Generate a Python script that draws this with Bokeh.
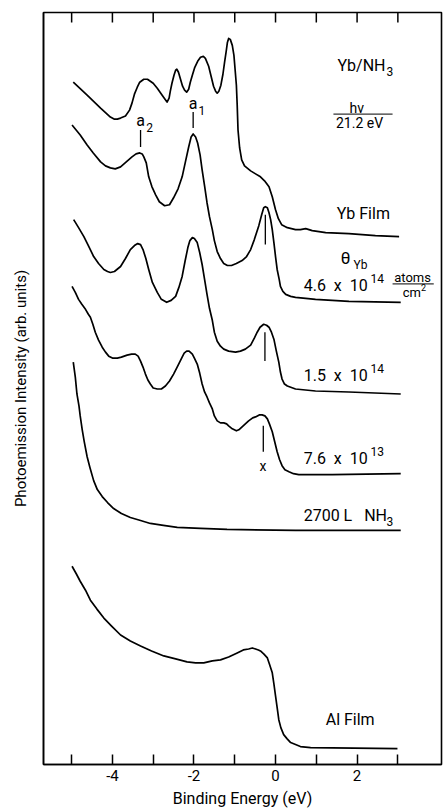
from bokeh.plotting import figure
from bokeh.models import FixedTicker, Range1d
from bokeh.core.properties import value
from bokeh.embed import file_html
from bokeh.resources import INLINE

# ---------------- data (binding energy in eV, intensity in arb. units) -------------
yb_film_E = [-4.96, -4.62, -4.29, -4.05, -3.96, -3.88, -3.80, -3.68, -3.58, -3.52, -3.46, -3.39,
             -3.33, -3.23, -3.14, -3.07, -3.00, -2.90, -2.78, -2.71, -2.66, -2.61, -2.58, -2.54,
             -2.49, -2.45, -2.42, -2.38, -2.33, -2.28, -2.23, -2.18, -2.13, -2.09, -2.04, -1.98,
             -1.91, -1.84, -1.77, -1.72, -1.64, -1.58, -1.52, -1.47, -1.43, -1.39, -1.34, -1.29,
             -1.25, -1.21, -1.18, -1.15, -1.11, -1.06, -1.02, -0.99, -0.96, -0.94, -0.92, -0.88,
             -0.83, -0.76, -0.61, -0.49, -0.37, -0.27, -0.16, -0.08, 0.00, 0.07, 0.15, 0.29,
             0.49, 0.61, 0.74, 0.90, 1.23, 1.80, 2.45, 3.03]
yb_film_I = [685, 672, 659, 650, 648, 648, 649, 651, 657, 664, 673, 680,
             685, 688, 688, 686, 684, 679, 672, 668, 665, 669, 676, 684,
             692, 697, 698, 695, 688, 681, 677, 675, 678, 685, 692, 700,
             706, 710, 711, 709, 701, 691, 681, 676, 674, 676, 682, 693,
             705, 716, 725, 729, 728, 722, 712, 697, 682, 662, 637, 619,
             607, 601, 596, 593, 590, 586, 580, 570, 557, 548, 542, 539,
             537, 537, 538, 536, 534, 533, 531, 530]

cov46_E = [-4.99, -4.79, -4.62, -4.47, -4.29, -4.17, -4.05, -3.93, -3.80, -3.66, -3.52, -3.42,
           -3.33, -3.27, -3.23, -3.17, -3.11, -3.03, -2.94, -2.85, -2.72, -2.60, -2.50, -2.39,
           -2.29, -2.21, -2.13, -2.07, -2.02, -1.96, -1.91, -1.85, -1.80, -1.74, -1.68, -1.62,
           -1.55, -1.50, -1.43, -1.35, -1.27, -1.18, -1.08, -0.96, -0.82, -0.71, -0.61, -0.52,
           -0.41, -0.34, -0.29, -0.25, -0.20, -0.16, -0.12, -0.08, -0.04, 0.00, 0.04, 0.09,
           0.12, 0.18, 0.25, 0.37, 0.49, 0.74, 0.98, 1.80, 3.07]
cov46_I = [642, 632, 622, 614, 605, 601, 599, 598, 600, 605, 610, 613,
           614, 613, 610, 604, 590, 580, 572, 565, 561, 562, 569, 578,
           590, 605, 620, 630, 633, 630, 624, 612, 597, 581, 564, 550,
           537, 526, 515, 508, 503, 501, 501, 503, 506, 510, 517, 527,
           541, 552, 559, 560, 559, 554, 547, 537, 524, 510, 497, 487,
           480, 475, 472, 470, 469, 468, 467, 465, 464]

cov15_E = [-4.95, -4.83, -4.70, -4.59, -4.46, -4.34, -4.21, -4.12, -4.05, -3.95, -3.80, -3.68,
           -3.56, -3.46, -3.38, -3.31, -3.25, -3.18, -3.11, -3.02, -2.90, -2.80, -2.67, -2.56,
           -2.45, -2.37, -2.29, -2.22, -2.15, -2.10, -2.04, -1.99, -1.92, -1.86, -1.80, -1.74,
           -1.68, -1.62, -1.55, -1.50, -1.43, -1.35, -1.27, -1.15, -0.98, -0.86, -0.74, -0.61,
           -0.52, -0.45, -0.38, -0.29, -0.22, -0.16, -0.10, -0.04, 0.02, 0.08, 0.12, 0.16,
           0.22, 0.29, 0.49, 0.98, 1.80, 3.07]
cov15_I = [547, 539, 530, 521, 510, 503, 497, 495, 494, 495, 500, 508,
           517, 521, 523, 522, 517, 508, 497, 484, 474, 467, 464, 466,
           470, 479, 490, 505, 519, 526, 529, 528, 524, 514, 502, 487,
           472, 458, 446, 434, 425, 420, 417, 415, 414, 415, 417, 421,
           428, 434, 439, 442, 441, 439, 434, 427, 415, 404, 394, 387,
           382, 380, 377, 375, 374, 372]

cov76_E = [-4.99, -4.91, -4.83, -4.75, -4.66, -4.59, -4.54, -4.48, -4.42, -4.34, -4.25, -4.17,
           -4.09, -4.00, -3.88, -3.78, -3.64, -3.53, -3.44, -3.37, -3.31, -3.25, -3.19, -3.13,
           -3.07, -3.00, -2.90, -2.80, -2.70, -2.60, -2.50, -2.40, -2.29, -2.24, -2.18, -2.12,
           -2.04, -1.99, -1.92, -1.86, -1.80, -1.74, -1.68, -1.62, -1.55, -1.50, -1.43, -1.35,
           -1.27, -1.20, -1.15, -1.06, -0.96, -0.90, -0.82, -0.74, -0.66, -0.56, -0.49, -0.40,
           -0.33, -0.26, -0.20, -0.15, -0.08, -0.02, 0.04, 0.10, 0.16, 0.23, 0.33, 0.44,
           0.57, 1.39, 3.07]
cov76_I = [480, 474, 467, 462, 457, 452, 449, 442, 434, 426, 419, 414,
           410, 408, 408, 409, 411, 412, 412, 410, 405, 399, 392, 386,
           382, 378, 377, 377, 380, 385, 392, 400, 409, 413, 415, 415,
           412, 408, 402, 393, 382, 374, 369, 363, 357, 350, 345, 343,
           343, 342, 340, 337, 335, 336, 339, 342, 345, 348, 349, 351,
           351, 350, 347, 342, 334, 324, 314, 306, 300, 296, 294, 292,
           291, 291, 292]

nh3_E = [-4.96, -4.91, -4.87, -4.82, -4.79, -4.74, -4.69, -4.62, -4.55, -4.46, -4.37, -4.25,
         -4.12, -3.97, -3.78, -3.56, -3.31, -3.07, -2.75, -2.41, -1.84, -1.19, 0.49, 3.07]
nh3_I = [404, 389, 372, 360, 350, 336, 324, 309, 298, 285, 276, 269,
         263, 257, 252, 248, 245, 242, 240, 238, 237, 236, 235, 235]

al_E = [-4.99, -4.88, -4.79, -4.66, -4.54, -4.38, -4.21, -4.02, -3.80, -3.56, -3.31, -3.04,
        -2.74, -2.45, -2.17, -1.96, -1.76, -1.55, -1.35, -1.15, -0.94, -0.79, -0.66, -0.57,
        -0.49, -0.42, -0.37, -0.29, -0.20, -0.15, -0.08, -0.04, 0.00, 0.04, 0.08, 0.13,
        0.20, 0.28, 0.37, 0.49, 0.61, 0.86, 2.99]
al_I = [199, 191, 184, 175, 165, 156, 147, 139, 130, 124, 119, 114,
        109, 106, 103, 102, 102, 104, 105, 108, 112, 115, 116, 117,
        116, 115, 114, 111, 107, 101, 92, 81, 69, 57, 45, 37,
        30, 26, 22, 20, 18, 17, 16]

# peak markers
mark_E = [-3.31, -2.02, -0.25, -0.26, -0.30]
mark_top = [637, 655, 552, 434, 340]
mark_bot = [620, 639, 522, 405, 314]

major_ticks = [-4, -2, 0, 2]
minor_ticks = [-5, -3, -1, 1, 3]
tick_labels = {-4: "-4", -2: "-2", 0: "0", 2: "2"}

NB = "\u00a0"
# labels
big_text = ["Yb/NH", "Yb Film", f"4.6{NB}{NB}x{NB}{NB}10", f"1.5{NB}{NB}x{NB}{NB}10",
            f"7.6{NB}{NB}x{NB}{NB}10", f"2700{NB}L{NB}{NB}{NB}NH", "Al Film"]
big_x = [1.52, 1.50, 0.69, 0.69, 0.69, 0.69, 1.23]
big_y = [702, 553, 481, 391, 307, 250, 45]

small_text = ["3", "14", "14", "13", "3", "Yb", "2", "1"]
small_x = [2.72, 2.33, 2.33, 2.33, 2.72, 1.91, -3.17, -1.89]
small_y = [696, 488, 398, 314, 244, 501, 640, 657]

center_text = ["hν", "21.2 eV", "x"]
center_x = [1.99, 2.06, -0.31]
center_y = [659, 644, 300]

a_text = ["a", "a"]
a_x = [-3.31, -2.02]
a_y = [647, 664]

frac_x0 = [1.42, 2.87]
frac_x1 = [2.87, 3.88]
frac_y = [653, 482.5]

FONT = value("Roboto")

p = figure(width=443, height=810, x_range=Range1d(-5.69, 4.07), y_range=Range1d(0, 755),
           output_backend="svg", toolbar_location=None,
           min_border_left=43, min_border_right=2, min_border_top=12, min_border_bottom=43,
           background_fill_color="white", border_fill_color="white",
           outline_line_color="black", outline_line_width=1.6)
p.title.visible = False
p.xgrid.visible = False
p.ygrid.visible = False

ax = p.xaxis[0]
ax.ticker = FixedTicker(ticks=major_ticks, minor_ticks=minor_ticks)
ax.major_label_overrides = tick_labels
ax.major_tick_in = 10
ax.major_tick_out = 0
ax.minor_tick_in = 10
ax.minor_tick_out = 0
ax.major_tick_line_width = 1.5
ax.minor_tick_line_width = 1.5
ax.axis_line_width = 1.5
ax.major_label_text_font = "Roboto"
ax.major_label_text_font_size = "15px"
ax.major_label_text_color = "black"
ax.major_label_standoff = 5
ax.axis_label = "Binding Energy (eV)"
ax.axis_label_text_font = "Roboto"
ax.axis_label_text_font_size = "16px"
ax.axis_label_text_font_style = "normal"
ax.axis_label_text_color = "black"
ax.axis_label_standoff = 5

# inward ticks along the top edge of the frame
top_ticks = major_ticks + minor_ticks
p.segment(x0=top_ticks, x1=top_ticks, y0=[755] * len(top_ticks), y1=[745] * len(top_ticks),
          line_color="black", line_width=1.5)

ay = p.yaxis[0]
ay.ticker = FixedTicker(ticks=[])
ay.major_tick_in = 0
ay.major_tick_out = 0
ay.minor_tick_in = 0
ay.minor_tick_out = 0
ay.axis_line_width = 1.5
ay.axis_label = "Photoemission Intensity (arb. units)"
ay.axis_label_text_font = "Roboto"
ay.axis_label_text_font_size = "15px"
ay.axis_label_text_font_style = "normal"
ay.axis_label_text_color = "black"
ay.axis_label_standoff = 14

for E, I in [(yb_film_E, yb_film_I), (cov46_E, cov46_I), (cov15_E, cov15_I),
             (cov76_E, cov76_I), (nh3_E, nh3_I), (al_E, al_I)]:
    p.line(E, I, line_color="black", line_width=1.7, line_join="round")

p.segment(x0=mark_E, y0=mark_bot, x1=mark_E, y1=mark_top, line_color="black", line_width=1.3)
p.segment(x0=frac_x0, y0=frac_y, x1=frac_x1, y1=frac_y, line_color="black", line_width=1.0)

p.text(x=big_x, y=big_y, text=big_text, text_font=FONT, text_font_size="16px",
       text_align="left", text_baseline="middle", text_color="black")
p.text(x=small_x, y=small_y, text=small_text, text_font=FONT, text_font_size="12px",
       text_align="left", text_baseline="middle", text_color="black")
p.text(x=center_x, y=center_y, text=center_text, text_font=FONT, text_font_size="14px",
       text_align="center", text_baseline="middle", text_color="black")
p.text(x=a_x, y=a_y, text=a_text, text_font=FONT, text_font_size="16px",
       text_align="center", text_baseline="middle", text_color="black")
p.text(x=[1.60], y=[509], text=["θ"], text_font=FONT, text_font_size="17px",
       text_align="left", text_baseline="middle", text_color="black")
p.text(x=[3.36, 3.34], y=[489, 474], text=["atoms", "cm"], text_font=FONT, text_font_size="13px",
       text_align="center", text_baseline="middle", text_color="black")
p.text(x=[3.57], y=[479], text=["2"], text_font=FONT, text_font_size="9px",
       text_align="left", text_baseline="middle", text_color="black")

open("out.html", "w").write(file_html(p, INLINE))
